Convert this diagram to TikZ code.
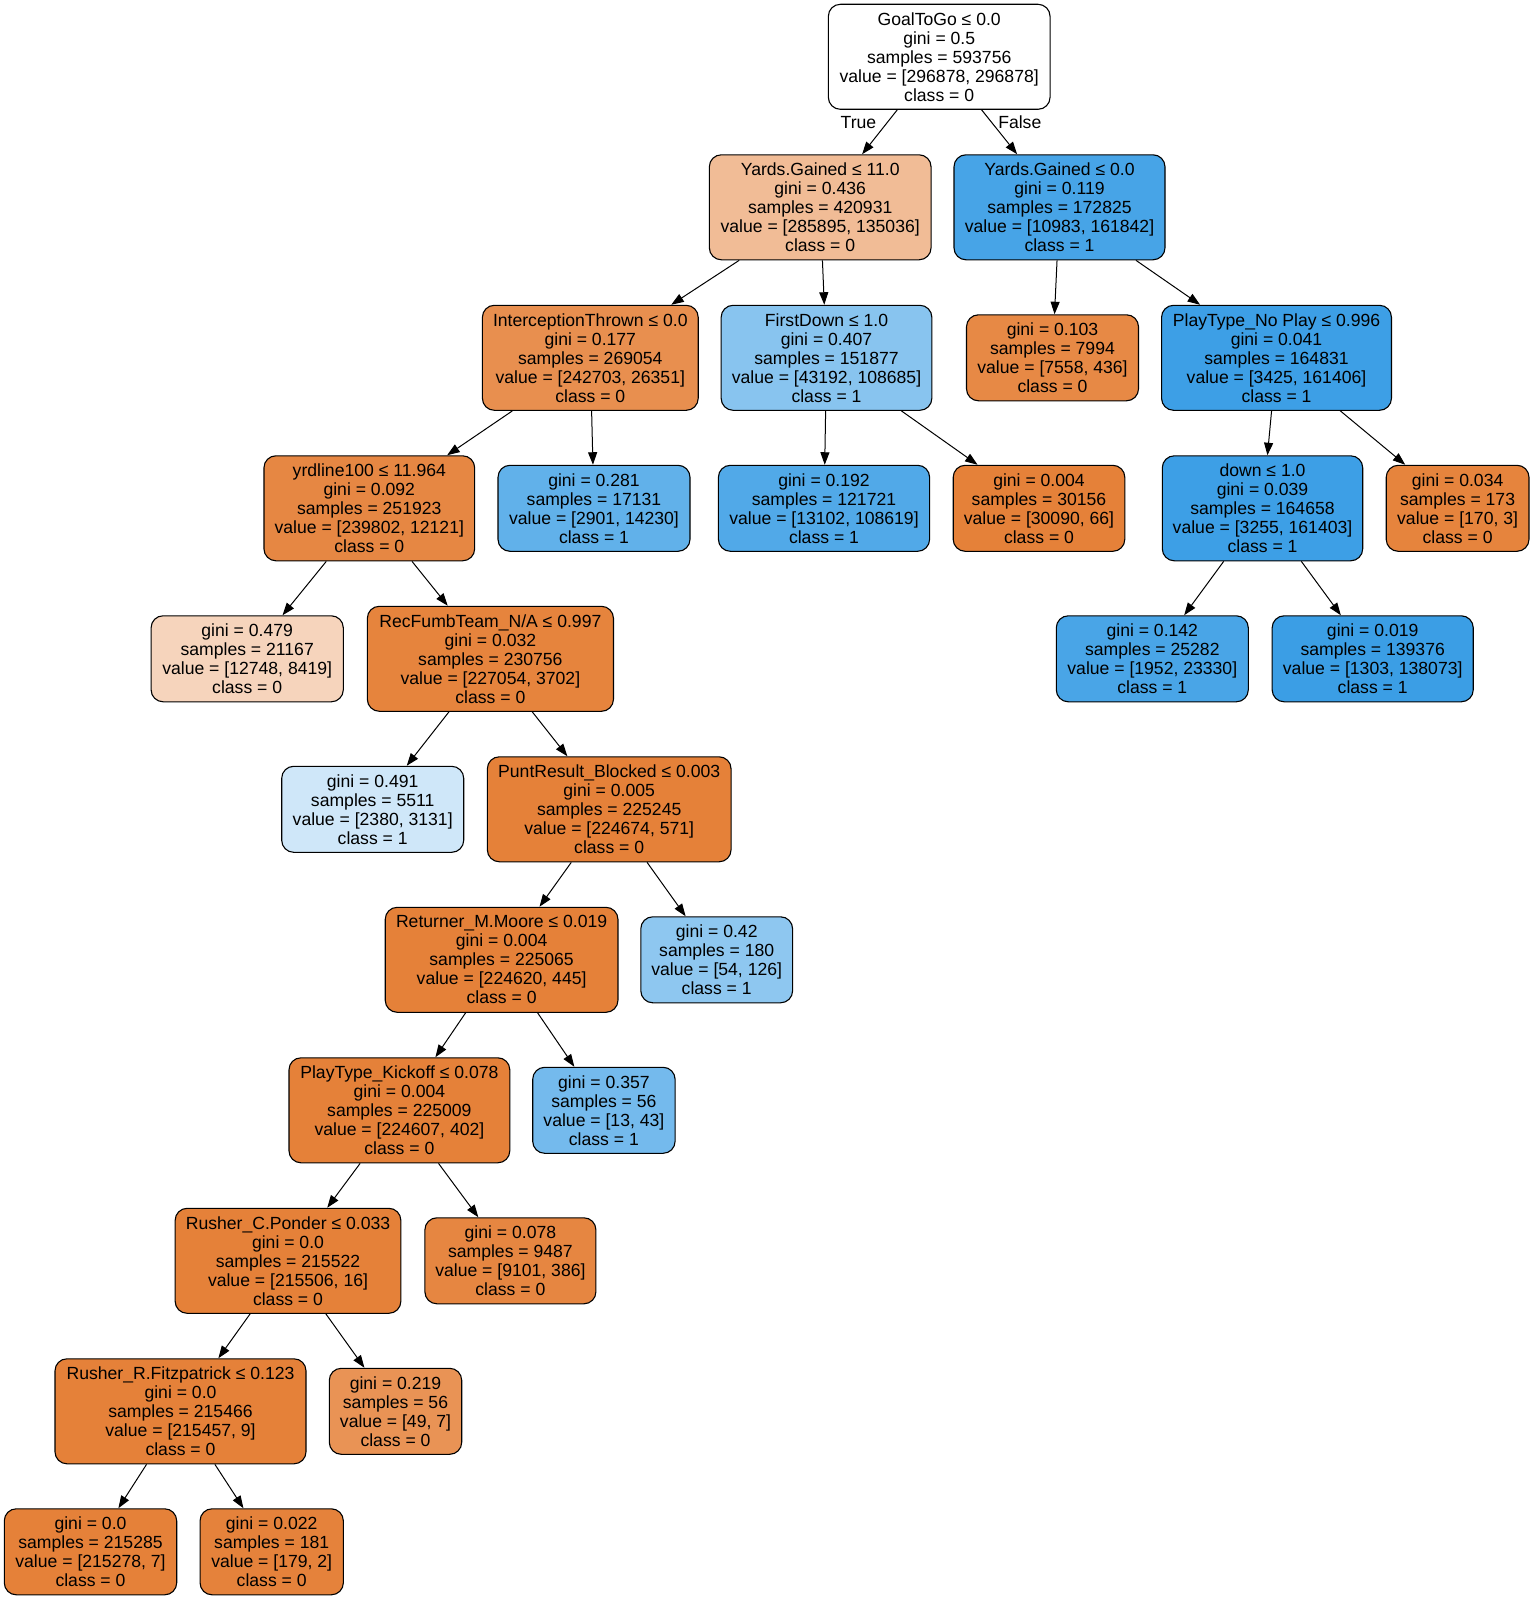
\documentclass[tikz,border=0pt]{standalone}
\usepackage{fontspec}
\setmainfont{Liberation Sans}
\usetikzlibrary{arrows.meta}
\definecolor{cz}{RGB}{229,129,57}
\definecolor{co}{RGB}{57,157,229}
\begin{document}
\begin{tikzpicture}[x=1pt,y=-1pt,
  tn/.style={draw=black, line width=1.1pt, rounded corners=12pt, align=center, inner sep=0pt,
    font=\fontsize{17.6pt}{19pt}\selectfont},
  fv/.style={tn, minimum height=105pt},
  ff/.style={tn, minimum height=86pt},
  arr/.style={line width=1pt, -{Triangle[length=12.5pt,width=9pt]}},
  lbl/.style={font=\fontsize{17.6pt}{19pt}\selectfont, inner sep=0pt}]
\useasboundingbox (0,0) rectangle (1534,1600);

\node[fv, fill=white, minimum width=221.7pt] (n0) at (939.2,56.8) {GoalToGo ≤ 0.0\\gini = 0.5\\samples = 593756\\value = [296878, 296878]\\class = 0};
\node[fv, fill=cz!53!white, minimum width=221.7pt] (n1) at (820.2,207.3) {Yards.Gained ≤ 11.0\\gini = 0.436\\samples = 420931\\value = [285895, 135036]\\class = 0};
\node[fv, fill=co!93!white, minimum width=211pt] (n2) at (1059.5,207.3) {Yards.Gained ≤ 0.0\\gini = 0.119\\samples = 172825\\value = [10983, 161842]\\class = 1};
\node[fv, fill=cz!89!white, minimum width=215.8pt] (n3) at (590.3,357.8) {InterceptionThrown ≤ 0.0\\gini = 0.177\\samples = 269054\\value = [242703, 26351]\\class = 0};
\node[fv, fill=co!60!white, minimum width=210.7pt] (n4) at (826.5,357.8) {FirstDown ≤ 1.0\\gini = 0.407\\samples = 151877\\value = [43192, 108685]\\class = 1};
\node[ff, fill=cz!94!white, minimum width=172pt] (n5) at (1052.5,357.8) {gini = 0.103\\samples = 7994\\value = [7558, 436]\\class = 0};
\node[fv, fill=co!98!white, minimum width=229.9pt] (n6) at (1276.5,357.8) {PlayType\_No Play ≤ 0.996\\gini = 0.041\\samples = 164831\\value = [3425, 161406]\\class = 1};
\node[fv, fill=cz!95!white, minimum width=210.7pt] (n7) at (369.3,508.3) {yrdline100 ≤ 11.964\\gini = 0.092\\samples = 251923\\value = [239802, 12121]\\class = 0};
\node[ff, fill=co!80!white, minimum width=192pt] (n8) at (594,508.3) {gini = 0.281\\samples = 17131\\value = [2901, 14230]\\class = 1};
\node[ff, fill=co!88!white, minimum width=211.2pt] (n9) at (824,508.3) {gini = 0.192\\samples = 121721\\value = [13102, 108619]\\class = 1};
\node[ff, fill=cz, minimum width=171.6pt] (n10) at (1039,508.3) {gini = 0.004\\samples = 30156\\value = [30090, 66]\\class = 0};
\node[fv, fill=co!98!white, minimum width=200.4pt] (n11) at (1262.5,508.3) {down ≤ 1.0\\gini = 0.039\\samples = 164658\\value = [3255, 161403]\\class = 1};
\node[ff, fill=cz!98!white, minimum width=142.8pt] (n12) at (1457.6,508.3) {gini = 0.034\\samples = 173\\value = [170, 3]\\class = 0};
\node[ff, fill=cz!34!white, minimum width=192.2pt] (n13) at (247.2,658.8) {gini = 0.479\\samples = 21167\\value = [12748, 8419]\\class = 0};
\node[fv, fill=cz!98!white, minimum width=246.1pt] (n14) at (490.4,658.8) {RecFumbTeam\_N/A ≤ 0.997\\gini = 0.032\\samples = 230756\\value = [227054, 3702]\\class = 0};
\node[ff, fill=co!92!white, minimum width=192pt] (n15) at (1152.3,658.8) {gini = 0.142\\samples = 25282\\value = [1952, 23330]\\class = 1};
\node[ff, fill=co!99!white, minimum width=201.1pt] (n16) at (1372.7,658.8) {gini = 0.019\\samples = 139376\\value = [1303, 138073]\\class = 1};
\node[ff, fill=co!24!white, minimum width=182pt] (n17) at (372.7,809.3) {gini = 0.491\\samples = 5511\\value = [2380, 3131]\\class = 1};
\node[fv, fill=cz, minimum width=243.7pt] (n18) at (609.2,809.3) {PuntResult\_Blocked ≤ 0.003\\gini = 0.005\\samples = 225245\\value = [224674, 571]\\class = 0};
\node[fv, fill=cz, minimum width=232.7pt] (n19) at (501.6,959.8) {Returner\_M.Moore ≤ 0.019\\gini = 0.004\\samples = 225065\\value = [224620, 445]\\class = 0};
\node[ff, fill=co!57!white, minimum width=151.8pt] (n20) at (716.7,959.8) {gini = 0.42\\samples = 180\\value = [54, 126]\\class = 1};
\node[fv, fill=cz, minimum width=220.8pt] (n21) at (399.4,1110.3) {PlayType\_Kickoff ≤ 0.078\\gini = 0.004\\samples = 225009\\value = [224607, 402]\\class = 0};
\node[ff, fill=co!70!white, minimum width=142.4pt] (n22) at (603.9,1110.3) {gini = 0.357\\samples = 56\\value = [13, 43]\\class = 1};
\node[fv, fill=cz, minimum width=225.7pt] (n23) at (288,1260.8) {Rusher\_C.Ponder ≤ 0.033\\gini = 0.0\\samples = 215522\\value = [215506, 16]\\class = 0};
\node[ff, fill=cz!96!white, minimum width=171pt] (n24) at (510.4,1260.8) {gini = 0.078\\samples = 9487\\value = [9101, 386]\\class = 0};
\node[fv, fill=cz, minimum width=251pt] (n25) at (180.5,1411.3) {Rusher\_R.Fitzpatrick ≤ 0.123\\gini = 0.0\\samples = 215466\\value = [215457, 9]\\class = 0};
\node[ff, fill=cz!86!white, minimum width=132.4pt] (n26) at (395.5,1411.3) {gini = 0.219\\samples = 56\\value = [49, 7]\\class = 0};
\node[ff, fill=cz, minimum width=172.4pt] (n27) at (90.5,1551.8) {gini = 0.0\\samples = 215285\\value = [215278, 7]\\class = 0};
\node[ff, fill=cz!99!white, minimum width=143.3pt] (n28) at (271.7,1551.8) {gini = 0.022\\samples = 181\\value = [179, 2]\\class = 0};

\node[lbl] (ltrue) at (858.5,122.7) {True};
\node[lbl] (lfalse) at (1019.8,122.7) {False};

\draw[arr] (n0) -- (n1);
\draw[arr] (n0) -- (n2);
\draw[arr] (n1) -- (n3);
\draw[arr] (n1) -- (n4);
\draw[arr] (n2) -- (n5);
\draw[arr] (n2) -- (n6);
\draw[arr] (n3) -- (n7);
\draw[arr] (n3) -- (n8);
\draw[arr] (n4) -- (n9);
\draw[arr] (n4) -- (n10);
\draw[arr] (n6) -- (n11);
\draw[arr] (n6) -- (n12);
\draw[arr] (n7) -- (n13);
\draw[arr] (n7) -- (n14);
\draw[arr] (n11) -- (n15);
\draw[arr] (n11) -- (n16);
\draw[arr] (n14) -- (n17);
\draw[arr] (n14) -- (n18);
\draw[arr] (n18) -- (n19);
\draw[arr] (n18) -- (n20);
\draw[arr] (n19) -- (n21);
\draw[arr] (n19) -- (n22);
\draw[arr] (n21) -- (n23);
\draw[arr] (n21) -- (n24);
\draw[arr] (n23) -- (n25);
\draw[arr] (n23) -- (n26);
\draw[arr] (n25) -- (n27);
\draw[arr] (n25) -- (n28);
\end{tikzpicture}
\end{document}
